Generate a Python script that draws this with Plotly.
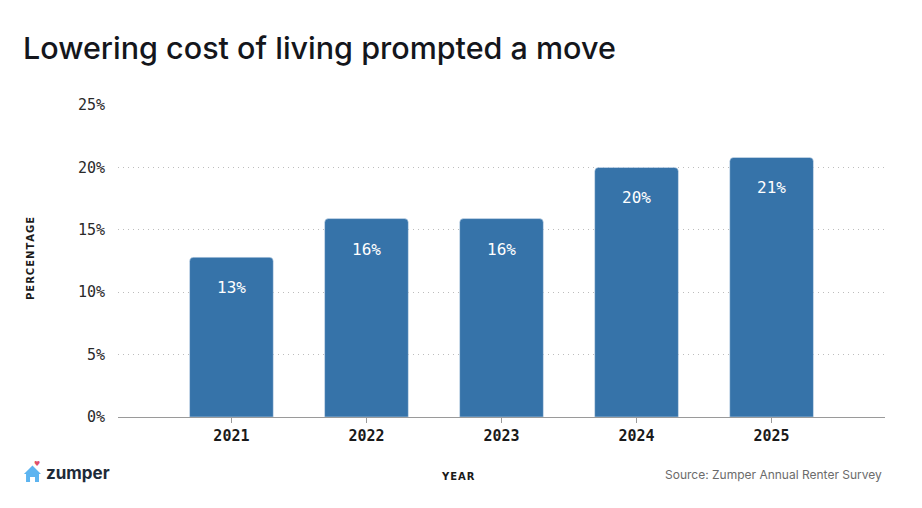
import plotly.graph_objects as go

# survey results, share of renters (%)
years = ["2021", "2022", "2023", "2024", "2025"]
share = [12.8, 15.9, 15.9, 20.0, 20.8]
labels = ["13%", "16%", "16%", "20%", "21%"]
y_ticks = [0, 5, 10, 15, 20, 25]
y_tick_text = ["0%", "5%", "10%", "15%", "20%", "25%"]

W, H = 922, 508
L, R, T, B = 118, 37, 105, 91
BAR = "#3673a9"
MONO = "DejaVu Sans Mono"
SANS = "Inter"
HS = "\u200a"


def px(x, y):
    """pixel position on the page -> paper coords"""
    return (x - L) / (W - L - R), (H - B - y) / (H - T - B)


def note(x, y, text, font, xanchor="center", **kw):
    """text placed by page pixels"""
    a, b = px(x, y)
    fig.add_annotation(xref="paper", yref="paper", x=a, y=b, text=text,
                       showarrow=False, xanchor=xanchor, yanchor="middle",
                       font=font, **kw)


fig = go.Figure()
fig.add_trace(go.Bar(x=years, y=share, marker_color=BAR, width=0.62,
                     hoverinfo="skip"))

# value labels sit a little below the top of each bar
for i, (v, lab) in enumerate(zip(share, labels)):
    fig.add_annotation(x=i, y=v, text=lab, showarrow=False, yanchor="top",
                       yshift=-19, font=dict(family=MONO, size=16, color="white"))

# title, axis names, source
note(21, 47, "Lowering cost of living prompted a move",
     dict(family=SANS, size=30.5, color="#14161c", weight=500), xanchor="left")
note(30, 259, HS.join("PERCENTAGE"),
     dict(family="DejaVu Sans", size=10, color="#1a1a1a", weight="bold"), textangle=-90)
note(458, 476, HS.join("YEAR"),
     dict(family="DejaVu Sans", size=10, color="#1a1a1a", weight="bold"))
note(884, 474, "Source: Zumper Annual Renter Survey",
     dict(family=SANS, size=12, color="#6b6b6b"), xanchor="right")

# zumper logo: house + heart + word mark
house = [(24, 474), (32.5, 465.5), (41, 474), (39, 474), (39, 482), (35, 482), (35, 477),
         (30, 477), (30, 482), (26, 482), (26, 474)]
pts = [px(x, y) for x, y in house]
path = "M " + " L ".join(f"{a:.4f},{b:.4f}" for a, b in pts) + " Z"
fig.add_shape(type="path", xref="paper", yref="paper", path=path,
              fillcolor="#5db4f0", line=dict(width=0))
note(36.5, 464, "♥", dict(family="DejaVu Sans", size=7, color="#e0506a"))
note(44, 473, "zumper", dict(family=SANS, size=17, color="#1d2a38", weight="bold"),
     xanchor="left")

fig.update_layout(
    width=W, height=H,
    margin=dict(l=L, r=R, t=T, b=B),
    paper_bgcolor="white", plot_bgcolor="white",
    showlegend=False, barcornerradius=4,
    xaxis=dict(type="category", range=[-0.84, 4.84], showgrid=False,
               ticks="outside", ticklen=5, tickcolor="#9a9a9a",
               showline=True, linecolor="#9a9a9a", linewidth=1,
               tickfont=dict(family=MONO, size=15, color="#1a1a1a", weight="bold")),
    yaxis=dict(range=[0, 25], tickvals=y_ticks, ticktext=y_tick_text,
               showgrid=True, gridcolor="#bdbdbd", griddash="1px,4px", gridwidth=1,
               zeroline=False, showline=False, ticks="", ticklabelstandoff=12,
               tickfont=dict(family=MONO, size=15, color="#2a2a2a")),
)

# drop the default page margin so the chart sits at the window's corner
fig.write_html("out.html", config={"displayModeBar": False},
               post_script="document.body.style.margin='0';")
